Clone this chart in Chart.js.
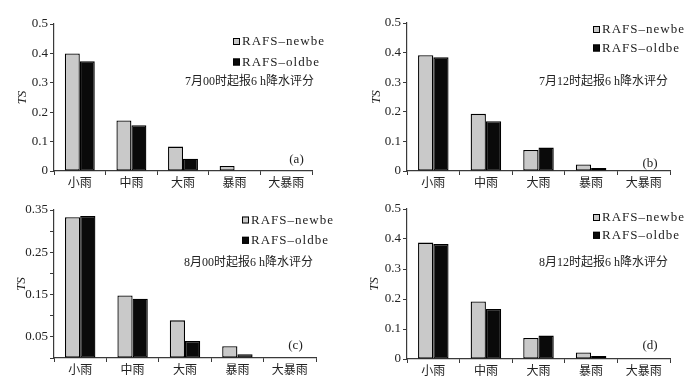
<!DOCTYPE html>
<html><head><meta charset="utf-8">
<script src="https://cdn.jsdelivr.net/npm/chart.js@4.4.1/dist/chart.umd.min.js"></script>
<style>
html,body{margin:0;padding:0;background:#fff;}
#wrap{position:relative;width:691px;height:384px;overflow:hidden;}
.pn{position:absolute;}
</style></head>
<body><div id="wrap"></div>
<script>
// ---- data ----
const categories = ['小雨','中雨','大雨','暴雨','大暴雨'];
const seriesNames = ['RAFS–newbe','RAFS–oldbe'];
const newbeA = [0.400, 0.172, 0.083, 0.017, 0];
const oldbeA = [0.373, 0.156, 0.042, 0, 0];
const newbeB = [0.391, 0.193, 0.071, 0.022, 0];
const oldbeB = [0.384, 0.168, 0.079, 0.010, 0];
const newbeC = [0.333, 0.148, 0.089, 0.028, 0];
const oldbeC = [0.336, 0.140, 0.040, 0.009, 0];
const newbeD = [0.388, 0.192, 0.070, 0.022, 0];
const oldbeD = [0.383, 0.167, 0.078, 0.010, 0];
const subtitles = ['7月00时起报6 h降水评分','7月12时起报6 h降水评分','8月00时起报6 h降水评分','8月12时起报6 h降水评分'];
const panelLabels = ['(a)','(b)','(c)','(d)'];
const yAxisTitle = 'TS';
const yMaxes = [0.5, 0.5, 0.35, 0.5];
const ySteps = [0.1, 0.1, 0.05, 0.1];
const yLabelsC = ['0.05','0.15','0.25','0.35'];

// ---- layout (positions / styles) ----
const panels = [
  {nb:newbeA, ob:oldbeA, x:0,   y:0,   w:345, h:192, left:54, right:33, top:24, bottom:21,
   leg:{dx:-79, y1:17.5, y2:38}, sub:{dx:2, dy:58}, lab:{dx:-15.5, dy:-11}, tt:-31},
  {nb:newbeB, ob:oldbeB, x:345, y:0,   w:346, h:192, left:62, right:21, top:23, bottom:21,
   leg:{dx:-77, y1:6.5, y2:25}, sub:{dx:-2, dy:59}, lab:{dx:-20, dy:-7}, tt:-30.5},
  {nb:newbeC, ob:oldbeC, x:0,   y:192, w:345, h:192, left:54, right:29, top:18, bottom:26,
   leg:{dx:-74, y1:10, y2:30.3}, sub:{dx:-3, dy:52.7}, lab:{dx:-20.5, dy:-12}, tt:-32.5},
  {nb:newbeD, ob:oldbeD, x:345, y:192, w:346, h:192, left:62, right:21, top:17, bottom:25,
   leg:{dx:-77, y1:8.5, y2:26.3}, sub:{dx:-2, dy:53.7}, lab:{dx:-20, dy:-13}, tt:-32}
];
const GRAY = '#c9c9c9', BLACK = '#0a0a0a', AX = '#3a3a3a', TXT = '#222';
const SERIF = "'Liberation Serif','Times New Roman',serif";
const CJK = "'Liberation Serif','Noto Sans CJK SC',serif";

const wrap = document.getElementById('wrap');
panels.forEach((p, i) => {
  const div = document.createElement('div');
  div.className = 'pn';
  div.style.left = p.x + 'px'; div.style.top = p.y + 'px';
  div.style.width = p.w + 'px'; div.style.height = p.h + 'px';
  const cv = document.createElement('canvas');
  cv.width = p.w; cv.height = p.h;
  cv.style.width = p.w + 'px'; cv.style.height = p.h + 'px';
  div.appendChild(cv); wrap.appendChild(div);

  const deco = {
    id: 'deco' + i,
    afterDraw(chart) {
      const ctx = chart.ctx, a = chart.chartArea;
      ctx.save();
      // legend
      const cols = [GRAY, BLACK];
      [p.leg.y1, p.leg.y2].forEach((yy, k) => {
        const bx = a.right + p.leg.dx, by = a.top + yy;
        ctx.fillStyle = cols[k];
        ctx.fillRect(bx, by - 3.5, 7, 7);
        ctx.strokeStyle = '#000'; ctx.lineWidth = 1;
        ctx.strokeRect(bx + 0.5, by - 3, 6, 6);
        ctx.fillStyle = TXT;
        ctx.font = '13px ' + SERIF;
        ctx.letterSpacing = '1px';
        ctx.textAlign = 'left'; ctx.textBaseline = 'middle';
        ctx.fillText(seriesNames[k], bx + 9, by + 0.5);
        ctx.letterSpacing = '0px';
      });
      // subtitle
      ctx.font = '12px ' + CJK;
      ctx.textAlign = 'right'; ctx.textBaseline = 'middle';
      ctx.fillStyle = TXT;
      ctx.fillText(subtitles[i], a.right + p.sub.dx, a.top + p.sub.dy);
      // panel label
      ctx.font = '13px ' + SERIF;
      ctx.textAlign = 'center';
      ctx.fillText(panelLabels[i], a.right + p.lab.dx, a.bottom + p.lab.dy);
      // y title
      ctx.translate(a.left + p.tt, (a.top + a.bottom) / 2);
      ctx.rotate(-Math.PI / 2);
      ctx.font = 'italic 13px ' + SERIF;
      ctx.textAlign = 'center';
      ctx.fillText(yAxisTitle, 0, 0);
      ctx.restore();
    }
  };

  new Chart(cv, {
    type: 'bar',
    data: {
      labels: categories,
      datasets: [
        {label: seriesNames[0], data: p.nb, backgroundColor: GRAY, borderColor: '#000', borderWidth: 1.3, borderSkipped: false,
         barPercentage: 1, categoryPercentage: 0.58},
        {label: seriesNames[1], data: p.ob, backgroundColor: BLACK, borderColor: '#000', borderWidth: 1.3, borderSkipped: false,
         barPercentage: 1, categoryPercentage: 0.58}
      ]
    },
    options: {
      responsive: false, animation: false,
      layout: {padding: {top: p.top, right: p.right, left: 0, bottom: 0}},
      plugins: {legend: {display: false}, tooltip: {enabled: false}},
      scales: {
        x: {
          offset: true,
          grid: {display: true, drawOnChartArea: false, drawTicks: true, tickLength: 4, color: AX, offset: true},
          border: {display: true, color: AX, width: 1.2},
          ticks: {color: TXT, font: {family: CJK, size: 12}, padding: 2, maxRotation: 0, autoSkip: false},
          afterFit(s) { s.height = p.bottom; }
        },
        y: {
          min: 0, max: yMaxes[i],
          grid: {display: true, drawOnChartArea: false, drawTicks: true, tickLength: 4, color: AX},
          border: {display: true, color: AX, width: 1.2},
          ticks: {
            stepSize: ySteps[i], color: TXT, font: {family: SERIF, size: 13}, padding: 2,
            callback(v) {
              if (i === 2) {
                const s = v.toFixed(2);
                return yLabelsC.includes(s) ? s : '';
              }
              return v === 0 ? '0' : v.toFixed(1);
            }
          },
          afterFit(s) { s.width = p.left; }
        }
      }
    },
    plugins: [deco]
  });
});
</script>
</body></html>
